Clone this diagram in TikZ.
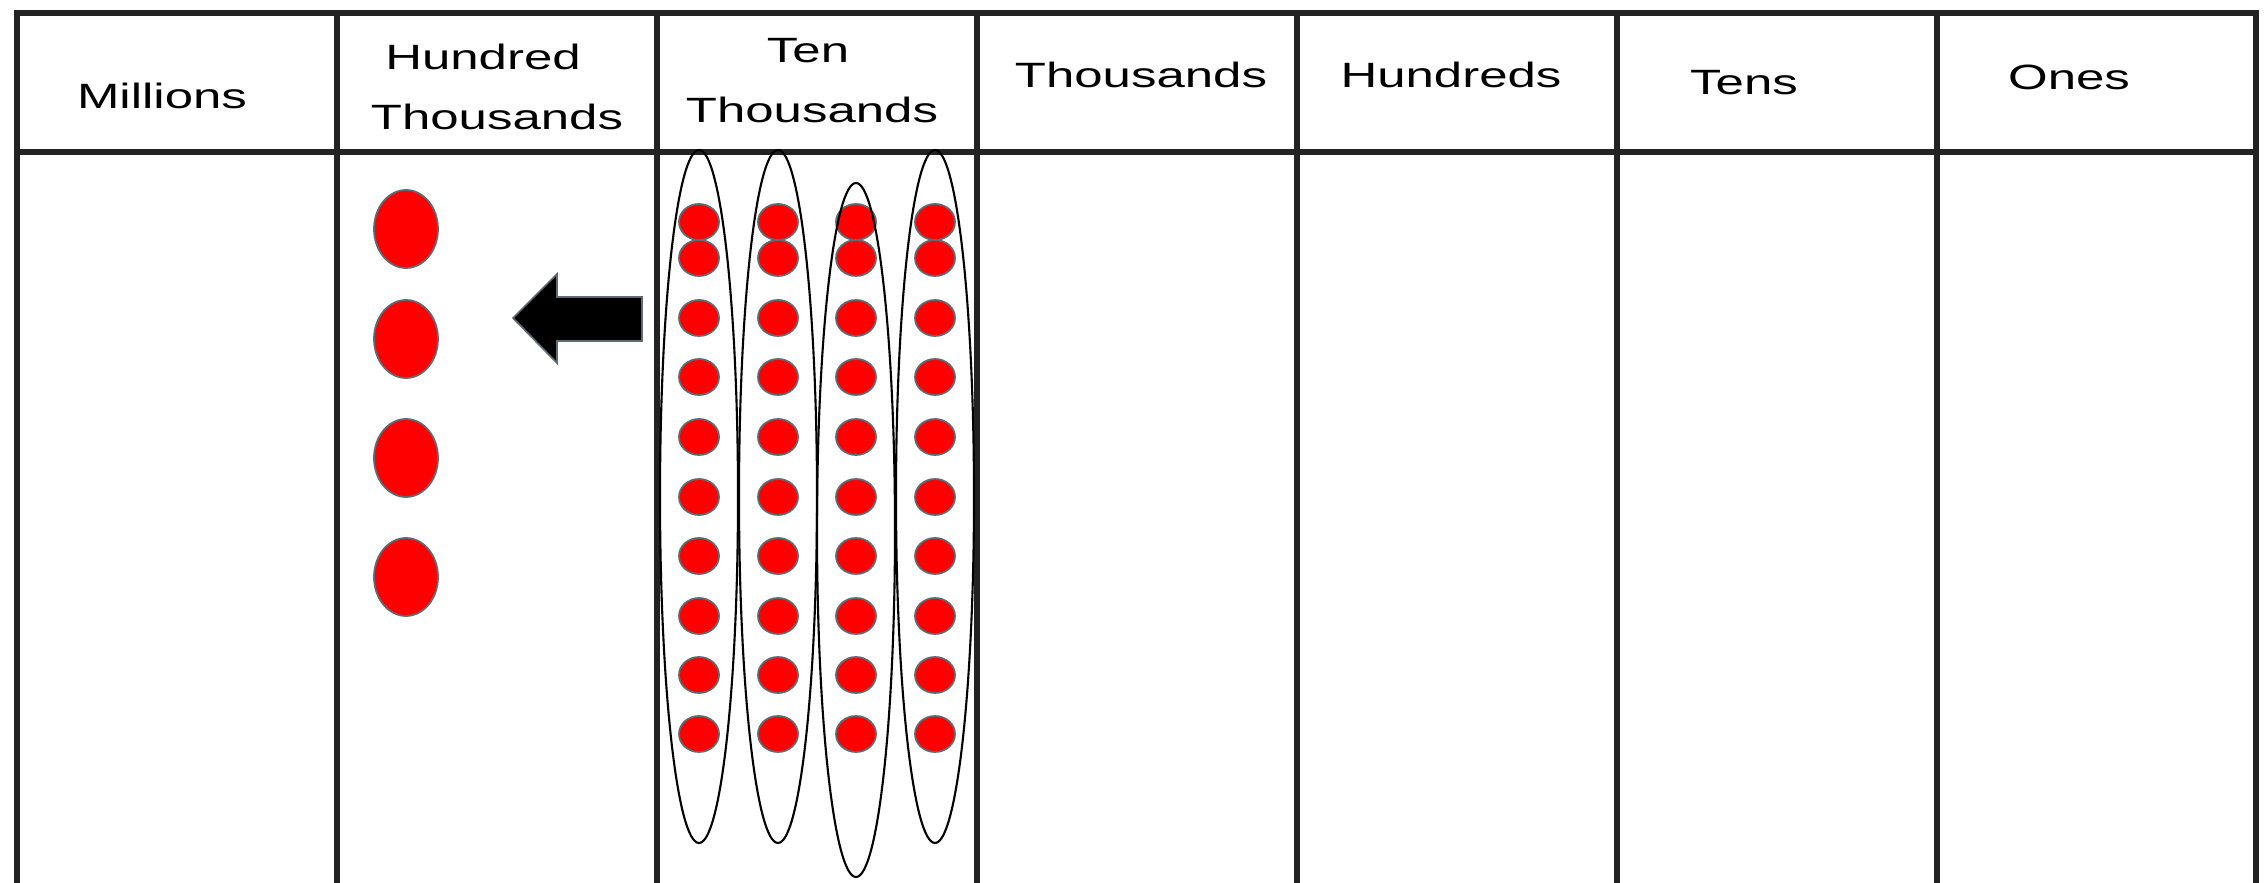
\documentclass[tikz,border=0pt]{standalone}
\usepackage{fontspec}
\setmainfont{Liberation Sans}
\usepackage{xcolor}
\usepackage{tikz}
\usetikzlibrary{
  positioning,
}
\definecolor{ink}{HTML}{222222}
\definecolor{counterred}{HTML}{FF0000}
\definecolor{counteredge}{HTML}{5F6B73}
\newcommand{\wide}[1]{\scalebox{1.45}[1]{#1}}
\tikzset{
  gridline/.style={draw=ink, line width=1.7pt},
  colhead/.style={font=\fontsize{10}{12}\selectfont, text=black, anchor=base, inner sep=0pt},
  counter/.style={fill=counterred, draw=counteredge, line width=0.5pt},
  bundle/.style={draw=black, line width=0.6pt},
}

\begin{document}
\begin{tikzpicture}[x=1cm,y=1cm]
  \useasboundingbox (0,0) rectangle (22.68,8.83);
  \fill[white] (0,0) rectangle (22.68,8.83);

  % Chart grid
  \draw[gridline] (0.17,0) -- (0.17,8.70) -- (22.56,8.70) -- (22.56,0);
  \draw[gridline] (0.17,7.31) -- (22.56,7.31);
  \draw[gridline] (3.37,0) -- (3.37,8.70);
  \draw[gridline] (6.57,0) -- (6.57,8.70);
  \draw[gridline] (9.77,0) -- (9.77,8.70);
  \draw[gridline] (12.97,0) -- (12.97,8.70);
  \draw[gridline] (16.17,0) -- (16.17,8.70);
  \draw[gridline] (19.37,0) -- (19.37,8.70);

  % Column headings
  \node[colhead] (millions) at (1.62,7.74) {\wide{Millions}};
  \node[colhead] (hthA) at (4.83,8.13) {\wide{Hundred}};
  \node[colhead] (hthB) at (4.97,7.53) {\wide{Thousands}};
  \node[colhead] (tthA) at (8.08,8.20) {\wide{Ten}};
  \node[colhead] (tthB) at (8.12,7.60) {\wide{Thousands}};
  \node[colhead] (thousands) at (11.41,7.95) {\wide{Thousands}};
  \node[colhead] (hundreds) at (14.51,7.95) {\wide{Hundreds}};
  \node[colhead] (tens) at (17.44,7.88) {\wide{Tens}};
  \node[colhead] (ones) at (20.69,7.93) {\wide{Ones}};

  % Hundred thousands counters
  \draw[counter] (4.06,6.54) ellipse (0.32 and 0.39);
  \draw[counter] (4.06,5.44) ellipse (0.32 and 0.39);
  \draw[counter] (4.06,4.25) ellipse (0.32 and 0.39);
  \draw[counter] (4.06,3.06) ellipse (0.32 and 0.39);

  % Regroup arrow
  \fill[black, draw=counteredge, line width=0.5pt]
    (5.13,5.65) -- (5.57,6.09) -- (5.57,5.86) -- (6.42,5.86)
    -- (6.42,5.42) -- (5.57,5.42) -- (5.57,5.20) -- cycle;

  % Ten thousands counters
  \foreach \x in {6.99,7.78,8.56,9.35}
    \foreach \y in {6.61,6.25,5.65,5.06,4.46,3.86,3.27,2.67,2.08,1.49}
      \draw[counter] (\x,\y) ellipse (0.20 and 0.18);

  % Groups of ten
  \draw[bundle] (6.99,3.865) ellipse (0.39 and 3.465);
  \draw[bundle] (7.78,3.865) ellipse (0.39 and 3.465);
  \draw[bundle] (8.56,3.53) ellipse (0.39 and 3.47);
  \draw[bundle] (9.35,3.865) ellipse (0.39 and 3.465);
\end{tikzpicture}
\end{document}
